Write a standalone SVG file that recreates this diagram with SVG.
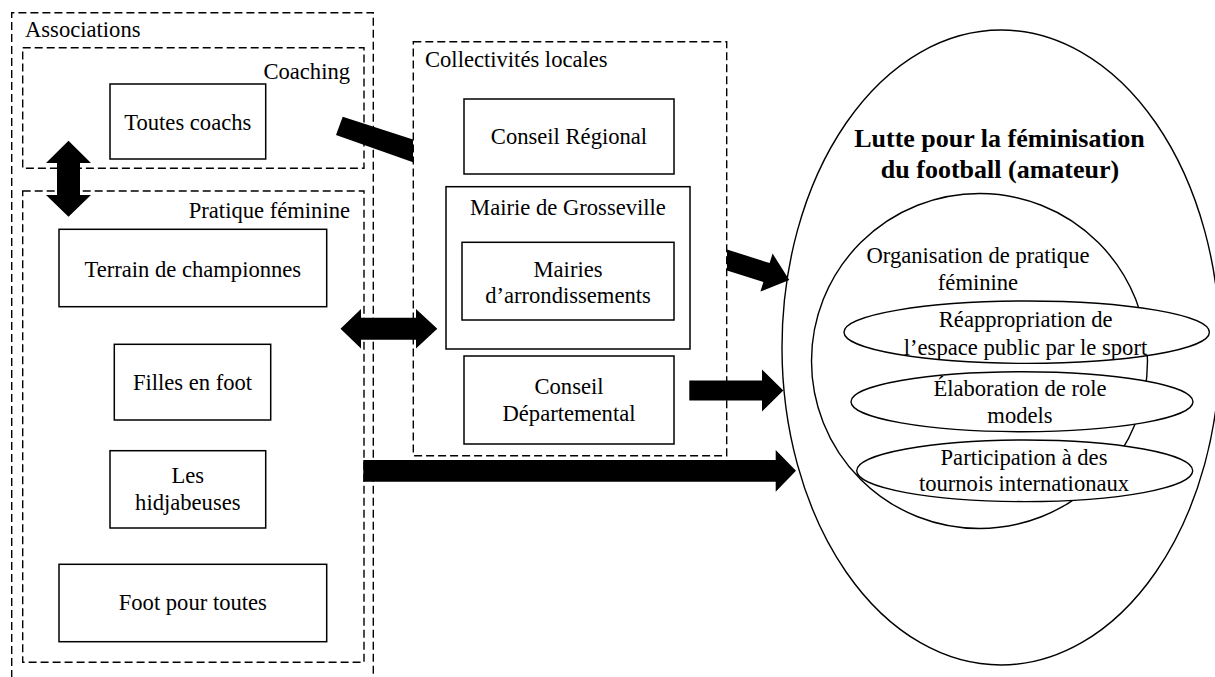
<svg xmlns="http://www.w3.org/2000/svg" width="1215" height="677" viewBox="0 0 1215 677">
<style>
.dash{fill:none;stroke:#000;stroke-width:1.4;stroke-dasharray:8 4}
.box{fill:#fff;stroke:#000;stroke-width:1.5}
.ell{fill:#fff;stroke:#000;stroke-width:1.4}
.t{font-family:"Liberation Serif","Times New Roman",serif;font-size:22.6px;fill:#000}
.c{text-anchor:middle}
.e{text-anchor:end}
.b{font-weight:bold;font-size:26px}
.arr{fill:#000;stroke:none}
</style>
<rect width="1215" height="677" fill="#fff"/>
<g id="associations">
<path class="dash" d="M11.7,690 V12.7 H373.3 V690"/>
<text class="t" x="25" y="37.3">Associations</text>
</g>
<g id="coaching">
<rect class="dash" x="22.7" y="47.7" width="341.3" height="120.6"/>
<text class="t e" x="350" y="79">Coaching</text>
</g>
<g id="toutes-coachs">
<rect class="box" x="110" y="84" width="155.7" height="75"/>
<text class="t c" x="187.8" y="130">Toutes coachs</text>
</g>
<g id="pratique-feminine">
<rect class="dash" x="22.7" y="191" width="341.3" height="471.3"/>
<text class="t e" x="350" y="218.3">Pratique féminine</text>
</g>
<g id="terrain">
<rect class="box" x="59" y="229.3" width="267.7" height="77.4"/>
<text class="t c" x="192.8" y="276.7">Terrain de championnes</text>
</g>
<g id="filles">
<rect class="box" x="114.3" y="344.3" width="156.4" height="75.7"/>
<text class="t c" x="192.5" y="390">Filles en foot</text>
</g>
<g id="hidjabeuses">
<rect class="box" x="110" y="450.7" width="155.7" height="77.3"/>
<text class="t c" x="187.8" y="483.3">Les</text>
<text class="t c" x="187.8" y="510">hidjabeuses</text>
</g>
<g id="foot-pour-toutes">
<rect class="box" x="59" y="564.3" width="267.7" height="77.4"/>
<text class="t c" x="192.8" y="610">Foot pour toutes</text>
</g>
<g id="collectivites">
<rect class="dash" x="413.3" y="41.7" width="313.4" height="414"/>
<text class="t" x="425" y="66.7">Collectivités locales</text>
</g>
<g id="conseil-regional">
<rect class="box" x="464" y="99" width="210" height="75"/>
<text class="t c" x="569" y="144.3">Conseil Régional</text>
</g>
<g id="mairie-grosseville">
<rect class="box" x="446" y="186.7" width="244" height="162.3"/>
<text class="t c" x="568" y="215">Mairie de Grosseville</text>
</g>
<g id="mairies-arrondissements">
<rect class="box" x="462" y="242.3" width="212" height="77.7"/>
<text class="t c" x="568" y="276.7">Mairies</text>
<text class="t c" x="568" y="302.7">d’arrondissements</text>
</g>
<g id="conseil-departemental">
<rect class="box" x="464" y="356" width="210" height="88"/>
<text class="t c" x="569" y="394">Conseil</text>
<text class="t c" x="569" y="420.7">Départemental</text>
</g>
<g id="lutte">
<ellipse class="ell" cx="1001" cy="347.5" rx="219" ry="317.5"/>
<text class="t c b" x="999.5" y="146.7">Lutte pour la féminisation</text>
<text class="t c b" x="1000" y="178">du football (amateur)</text>
</g>
<g id="organisation">
<ellipse class="ell" cx="979.5" cy="361" rx="168" ry="167.5"/>
<text class="t c" x="978" y="263.3">Organisation de pratique</text>
<text class="t c" x="978" y="290">féminine</text>
</g>
<g id="reappropriation">
<ellipse class="ell" cx="1026.7" cy="332.2" rx="182.7" ry="31.2"/>
<text class="t c" x="1025.7" y="326.7">Réappropriation de</text>
<text class="t c" x="1025.5" y="355">l’espace public par le sport</text>
</g>
<g id="elaboration">
<ellipse class="ell" cx="1022" cy="401.7" rx="171" ry="30"/>
<text class="t c" x="1020" y="395.7">Élaboration de role</text>
<text class="t c" x="1020" y="422.7">models</text>
</g>
<g id="participation">
<ellipse class="ell" cx="1024.7" cy="470.8" rx="168" ry="30.8"/>
<text class="t c" x="1024" y="465">Participation à des</text>
<text class="t c" x="1024" y="490.5">tournois internationaux</text>
</g>
<g id="connectors">
<polygon class="arr" points="68.5,140.7 91,163 80,163 80,195 91,195 68.5,216.7 46,195 57,195 57,163 46,163"/>
<polygon class="arr" points="342.7,116.7 413,139.5 413,162.3 336,135"/>
<polygon class="arr" points="340.5,328.8 361,309 361,317.8 416,317.8 416,309 437.3,328.8 416,348.6 416,339.8 361,339.8 361,348.6"/>
<polygon class="arr" points="727,249.4 769.6,263.1 772.6,253.6 789.3,280 760.4,291.6 763.4,282.1 727,270.4"/>
<polygon class="arr" points="689.3,380.5 762,380.5 762,369.5 783.3,390.5 762,411.5 762,400.5 689.3,400.5"/>
<polygon class="arr" points="363.3,460 775.7,460 775.7,450 796,470.8 775.7,491.7 775.7,481.7 363.3,481.7"/>
</g>
</svg>
